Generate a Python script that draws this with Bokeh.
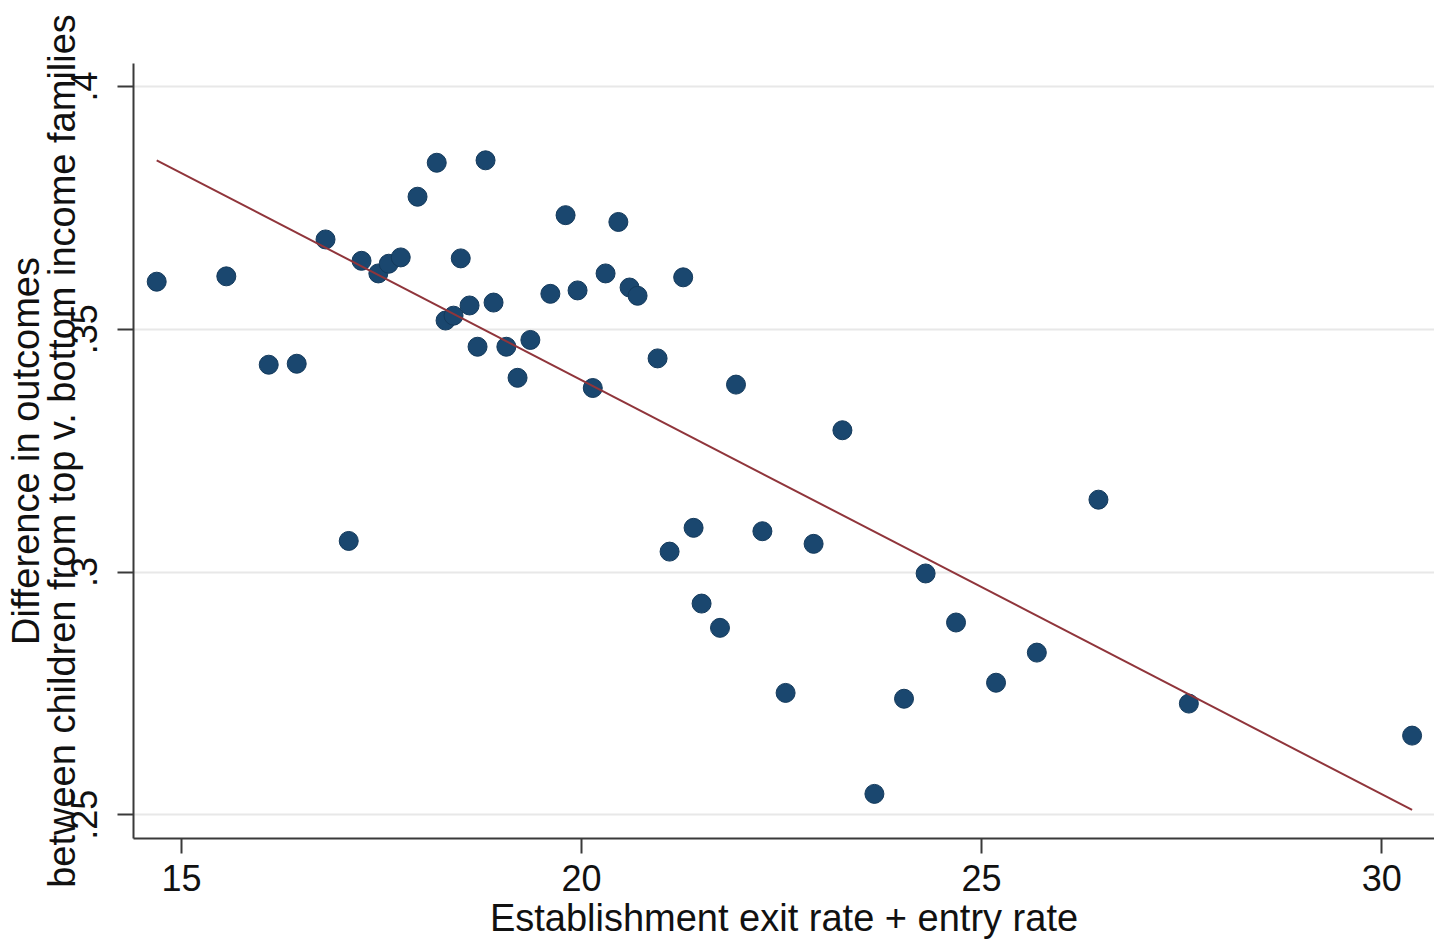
import numpy as np
from bokeh.plotting import figure
from bokeh.models import FixedTicker, Range1d
from bokeh.embed import file_html
from bokeh.resources import INLINE

# Establishment exit rate + entry rate, one value per area
churn = [14.69, 15.56, 16.09, 16.44, 16.80, 17.09, 17.25, 17.46, 17.59, 17.74,
         17.95, 18.19, 18.30, 18.40, 18.49, 18.60, 18.70, 18.80, 18.90, 19.06,
         19.20, 19.36, 19.61, 19.80, 19.95, 20.14, 20.30, 20.46, 20.60, 20.70,
         20.95, 21.10, 21.27, 21.40, 21.50, 21.73, 21.93, 22.26, 22.55, 22.90,
         23.26, 23.66, 24.03, 24.30, 24.68, 25.18, 25.69, 26.46, 27.59, 30.38]

# Difference in outcomes between children from top and bottom income families
gap = [0.3598, 0.3609, 0.3427, 0.3429, 0.3685, 0.3064, 0.3641, 0.3615, 0.3635, 0.3648,
       0.3773, 0.3843, 0.3518, 0.3528, 0.3646, 0.3549, 0.3464, 0.3848, 0.3555, 0.3464,
       0.3400, 0.3478, 0.3573, 0.3735, 0.3580, 0.3379, 0.3615, 0.3721, 0.3586, 0.3569,
       0.3440, 0.3042, 0.3607, 0.3091, 0.2935, 0.2885, 0.3386, 0.3084, 0.2751, 0.3058,
       0.3292, 0.2543, 0.2739, 0.2997, 0.2896, 0.2772, 0.2834, 0.3149, 0.2729, 0.2663]

# Fitted values of the linear fit at the ends of the data range
fit_x = [14.69, 30.38]
fit_y = [0.3848, 0.2510]

x_ticks = [15, 20, 25, 30]
y_ticks = [0.25, 0.30, 0.35, 0.40]
y_tick_labels = [".25", ".3", ".35", ".4"]

FONT = "Liberation Sans"
AXIS_COLOR = "#3a3a3a"
TEXT_COLOR = "#111111"

p = figure(width=1434, height=944, output_backend="svg", toolbar_location=None,
           title=None,
           x_range=Range1d(14.4, 30.66), y_range=Range1d(0.24511, 0.40474),
           min_border_left=133, min_border_right=0,
           min_border_top=63, min_border_bottom=106)

p.background_fill_color = "white"
p.border_fill_color = "white"
p.outline_line_color = None

# Grid: horizontal lines only, at the y ticks
p.xgrid.visible = False
p.ygrid.ticker = FixedTicker(ticks=y_ticks)
p.ygrid.grid_line_color = "#e8e8e8"
p.ygrid.grid_line_width = 2

# x axis
xa = p.xaxis[0]
xa.ticker = FixedTicker(ticks=x_ticks)
xa.minor_tick_line_color = None
xa.major_tick_in = 0
xa.major_tick_out = 15
xa.axis_line_color = AXIS_COLOR
xa.axis_line_width = 2
xa.major_tick_line_color = AXIS_COLOR
xa.major_tick_line_width = 2
xa.major_label_text_font = FONT
xa.major_label_text_font_size = "36px"
xa.major_label_text_color = TEXT_COLOR
xa.major_label_standoff = 11
xa.axis_label = "Establishment exit rate + entry rate"
xa.axis_label_text_font = FONT
xa.axis_label_text_font_size = "38px"
xa.axis_label_text_font_style = "normal"
xa.axis_label_text_color = TEXT_COLOR
xa.axis_label_standoff = 3

# y axis, with a two-line title that sits close to the tick labels
ya = p.yaxis[0]
ya.ticker = FixedTicker(ticks=y_ticks)
ya.major_label_overrides = dict(zip(y_ticks, y_tick_labels))
ya.major_label_orientation = "vertical"
ya.minor_tick_line_color = None
ya.major_tick_in = 0
ya.major_tick_out = 16
ya.axis_line_color = AXIS_COLOR
ya.axis_line_width = 2
ya.major_tick_line_color = AXIS_COLOR
ya.major_tick_line_width = 2
ya.major_label_text_font = FONT
ya.major_label_text_font_size = "36px"
ya.major_label_text_color = TEXT_COLOR
ya.major_label_standoff = 20
ya.axis_label = "Difference in outcomes\nbetween children from top v. bottom income families"
ya.axis_label_text_font = FONT
ya.axis_label_text_font_size = "38px"
ya.axis_label_text_font_style = "normal"
ya.axis_label_text_color = TEXT_COLOR
ya.axis_label_text_line_height = 0.85
ya.axis_label_standoff = -14

# Scatter of areas, then the linear fit on top
p.scatter(churn, gap, size=19, fill_color="#1a476f", line_color="#143a5c", line_width=1)
p.line(fit_x, fit_y, line_color="#90353b", line_width=2)

open("out.html", "w").write(file_html(p, INLINE))
